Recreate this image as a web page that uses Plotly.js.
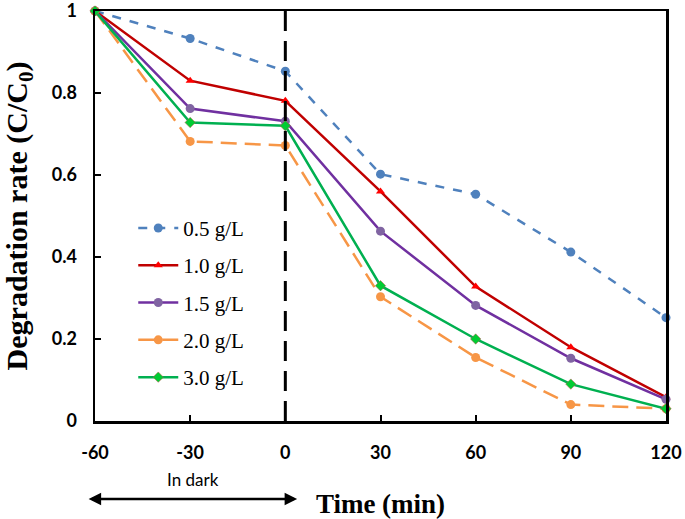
<!DOCTYPE html>
<html><head><meta charset="utf-8">
<script src="https://cdn.plot.ly/plotly-3.0.1.min.js"></script>
<style>body{margin:0;background:#fff}#g{width:685px;height:519px}</style>
</head><body><div id="g"></div>
<script>
const time = [-60, -30, 0, 30, 60, 90, 120];
const seriesNames = ['0.5 g/L', '1.0 g/L', '1.5 g/L', '2.0 g/L', '3.0 g/L'];
const c05 = [1, 0.933, 0.853, 0.602, 0.553, 0.412, 0.252];
const c10 = [1, 0.830, 0.781, 0.560, 0.328, 0.180, 0.058];
const c15 = [1, 0.762, 0.731, 0.463, 0.282, 0.153, 0.053];
const c20 = [1, 0.682, 0.672, 0.303, 0.155, 0.040, 0.030];
const c30 = [1, 0.728, 0.720, 0.330, 0.200, 0.090, 0.030];
const xTicks = [-60, -30, 0, 30, 60, 90, 120];
const yTicks = [0, 0.2, 0.4, 0.6, 0.8, 1];
const yTickText = ['0', '0.2', '0.4', '0.6', '0.8', '1'];

const styles = [
  {line:{color:'#4F81BD', width:2.5, dash:'dash'}, marker:{symbol:'circle', size:9, color:'#4F81BD'}},
  {line:{color:'#C00000', width:2.5}, marker:{symbol:'triangle-up', size:8, color:'#FF0000'}},
  {line:{color:'#7030A0', width:2.5}, marker:{symbol:'circle', size:9, color:'#8064A2'}},
  {line:{color:'#F79646', width:2.5, dash:'16px,8px'}, marker:{symbol:'circle', size:9, color:'#F79646'}},
  {line:{color:'#00B050', width:2.5}, marker:{symbol:'diamond', size:8, color:'#00CC33', line:{color:'#C0504D', width:0.5}}}
];
const values = [c05, c10, c15, c20, c30];
const traces = values.map((v, i) => Object.assign({
  x: time, y: v, name: seriesNames[i], legendgroup: 'g' + i, type: 'scatter', mode: 'lines+markers', cliponaxis: false
}, styles[i]));

const serif = 'Liberation Serif, Times New Roman, serif';
const sans = 'Lato, Open Sans, sans-serif';
const layout = {
  width: 685, height: 519,
  margin: {l: 95, r: 19, t: 11, b: 98},
  paper_bgcolor: '#fff', plot_bgcolor: '#fff',
  showlegend: true,
  legend: {x: 0.067, y: 0.52, xanchor: 'left', yanchor: 'top', bgcolor: 'rgba(0,0,0,0)',
    font: {family: serif, size: 21, color: '#000'},
    itemwidth: 40, tracegroupgap: 7},
  xaxis: {range: [-60, 120], tickvals: xTicks, ticktext: xTicks.map(String),
    showgrid: false, zeroline: false, showline: true, linecolor: '#000', linewidth: 2.5, mirror: true,
    ticks: 'inside', ticklen: 6, tickwidth: 2, tickcolor: '#000', ticklabelstandoff: 14, ticklabeloverflow: 'allow',
    tickfont: {family: sans, size: 18, color: '#000', weight: 'bold'},
    title: {text: '<b>Time (min)</b>', font: {family: serif, size: 27, color: '#000'}, standoff: 36}
  },
  yaxis: {range: [0, 1], tickvals: yTicks, ticktext: yTickText,
    showgrid: false, zeroline: false, showline: true, linecolor: '#000', linewidth: 2.5, mirror: true,
    ticks: 'inside', ticklen: 6, tickwidth: 2, tickcolor: '#000', ticklabelstandoff: 12, ticklabeloverflow: 'allow',
    tickfont: {family: sans, size: 18, color: '#000', weight: 'bold'},
    title: {text: '<b>Degradation rate (C/C<sub>0</sub>)</b>', font: {family: serif, size: 30, color: '#000'}, standoff: 17}
  },
  shapes: [
    {type: 'line', xref: 'x', yref: 'paper', x0: 0, x1: 0, y0: 0, y1: 1,
     line: {color: '#000', width: 3, dash: '20px,10px'}}
  ],
  annotations: [
    {xref: 'paper', yref: 'paper', x: 0.354, y: -0.19, axref: 'pixel', ayref: 'pixel', ax: -210, ay: 0,
     showarrow: true, arrowside: 'end+start', arrowhead: 2, arrowsize: 1, arrowwidth: 2.5, arrowcolor: '#000', text: ''},
    {xref: 'paper', yref: 'paper', x: 0.1715, y: -0.143, xanchor: 'center', yanchor: 'middle', showarrow: false,
     text: 'In dark', font: {family: sans, size: 17, color: '#000'}}
  ]
};
Plotly.newPlot('g', traces, layout, {displayModeBar: false, staticPlot: true});
</script></body></html>
